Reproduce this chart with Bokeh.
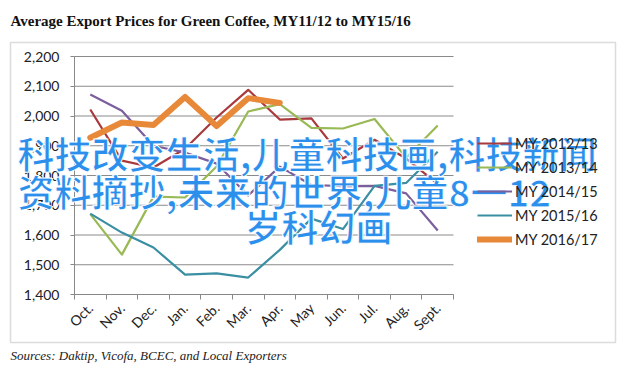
import numpy as np
from math import pi
from bokeh.plotting import figure
from bokeh.models import (Range1d, FixedTicker, NumeralTickFormatter, Legend, LegendItem,
                          Label, BoxAnnotation)
from bokeh.embed import file_html
from bokeh.resources import INLINE

# ---- data ----
months = ["Oct.", "Nov.", "Dec.", "Jan.", "Feb.", "Mar.", "Apr.", "May", "Jun.", "Jul.", "Aug.", "Sept."]
my_2012_13 = [2022, 1850, 1827, 1890, 1995, 2088, 1988, 1992, 1857, 1920, 1857, 1772]
my_2013_14 = [1670, 1534, 1729, 1726, 1830, 2015, 2040, 1960, 1958, 1990, 1860, 1968]
my_2014_15 = [2072, 2018, 1900, 1877, 1840, 1733, 1830, 1768, 1764, 1765, 1740, 1615]
my_2015_16 = [1672, 1608, 1558, 1467, 1471, 1457, 1550, 1655, 1620, 1765, 1775, 1880]
my_2016_17 = [1927, 1978, 1970, 2064, 1966, 2060, 2044]
series_names = ["MY 2012/13", "MY 2013/14", "MY 2014/15", "MY 2015/16", "MY 2016/17"]
y_ticks = [1400, 1500, 1600, 1700, 1800, 1900, 2000, 2100, 2200]

title_text = "Average Export Prices for Green Coffee, MY11/12 to MY15/16"
source_text = "Sources: Daktip, Vicofa, BCEC, and Local Exporters"
overlay_lines = ["科技改变生活,儿童科技画,科技新闻", "资料摘抄,未来的世界,儿童8一12", "岁科幻画"]

colors = ["#a9393c", "#98b954", "#7b5e9c", "#3a8fa3", "#e8893a"]
widths = [2.2, 2.2, 2.2, 2.2, 6]

# ---- geometry (canvas pixels) ----
W, H = 620, 364
PL, PR, PT, PB = 74, 453, 56, 294          # plot area inside the canvas
X0, X1 = 0, len(months)
Y0, Y1 = y_ticks[0], y_ticks[-1]
kx = (X1 - X0) / (PR - PL)
ky = (Y1 - Y0) / (PB - PT)

# the frame covers the whole canvas; ranges are widened so that the data
# region lands on the plot area, axes are pinned with fixed_location
p = figure(width=W, height=H, output_backend="svg", toolbar_location=None,
           x_range=Range1d(X0 - PL * kx, X1 + (W - PR) * kx),
           y_range=Range1d(Y0 - (H - PB) * ky, Y1 + PT * ky),
           min_border=0)
p.outline_line_color = None
p.background_fill_color = "white"
p.border_fill_color = "white"
p.title.visible = False

# gridlines limited to the plot area
p.xgrid.grid_line_color = None
p.ygrid.grid_line_color = None
p.segment(x0=[X0] * len(y_ticks), x1=[X1] * len(y_ticks), y0=y_ticks, y1=y_ticks,
          line_color="#8a8a8a", line_width=1)

# chart frame border
p.add_layout(BoxAnnotation(left=10, right=615, top=H - 42, bottom=H - 342,
                           left_units="screen", right_units="screen",
                           top_units="screen", bottom_units="screen",
                           fill_alpha=0, line_color="#8c8c8c", line_width=1.5))

xs = np.arange(len(months)) + 0.5
all_series = [my_2012_13, my_2013_14, my_2014_15, my_2015_16, my_2016_17]
renderers = []
for vals, c, w in zip(all_series, colors, widths):
    r = p.line(xs[:len(vals)], vals, line_color=c, line_width=w, line_join="round",
               line_cap="round" if w > 3 else "butt")
    renderers.append(r)

# axes
xax = p.xaxis[0]
xax.fixed_location = Y0
xax.bounds = (X0, X1)
xax.ticker = FixedTicker(ticks=list(xs), minor_ticks=list(range(len(months) + 1)))
xax.major_label_overrides = {float(x): m for x, m in zip(xs, months)}
xax.major_label_orientation = pi / 4
xax.major_tick_out = 0
xax.major_tick_in = 0
xax.minor_tick_out = 5
xax.minor_tick_in = 0
xax.minor_tick_line_color = "#888888"
xax.axis_line_color = "#888888"
xax.major_label_text_font = "Lato"
xax.major_label_text_font_size = "14px"
xax.major_label_text_color = "#222222"
xax.major_label_standoff = 6

yax = p.yaxis[0]
yax.fixed_location = X0
yax.bounds = (Y0, Y1)
yax.ticker = FixedTicker(ticks=y_ticks)
yax.formatter = NumeralTickFormatter(format="0,0")
yax.major_tick_out = 4
yax.major_tick_in = 0
yax.minor_tick_line_color = None
yax.major_tick_line_color = "#888888"
yax.axis_line_color = "#888888"
yax.major_label_text_font = "Lato"
yax.major_label_text_font_size = "14px"
yax.major_label_text_color = "#222222"
yax.major_label_standoff = 11

# legend (bottom-left corner, frame = canvas)
items = [LegendItem(label=n, renderers=[r]) for n, r in zip(series_names, renderers)]
legend = Legend(items=items, location=(477, H - 249), margin=0, padding=0, spacing=4,
                glyph_height=20, glyph_width=35, label_standoff=3,
                border_line_color=None, background_fill_alpha=0,
                label_text_font="Lato", label_text_font_size="14.5px", label_text_color="#222222")
p.add_layout(legend, "center")

def lab(text, px, py, **kw):
    return Label(x=px, y=H - py, x_units="screen", y_units="screen", text=text, **kw)

# title and source
p.add_layout(lab(title_text, 10, 20, text_font="Liberation Serif", text_font_style="bold",
                 text_font_size="15px", text_baseline="alphabetic", text_color="#111111"))
p.add_layout(lab(source_text, 10, 355, text_font="Liberation Serif", text_font_style="italic",
                 text_font_size="13px", text_baseline="alphabetic", text_color="#222222"))

# overlay text
for t, (px, py) in zip(overlay_lines, [(17, 152), (17, 190), (244, 225)]):
    p.add_layout(lab(t, px, py, text_font="Noto Sans CJK SC", text_font_size="37px",
                     text_font_style="bold", text_baseline="middle", text_color="#2d8fec",
                     text_outline_color="white"))

open("out.html", "w").write(file_html(p, INLINE))
